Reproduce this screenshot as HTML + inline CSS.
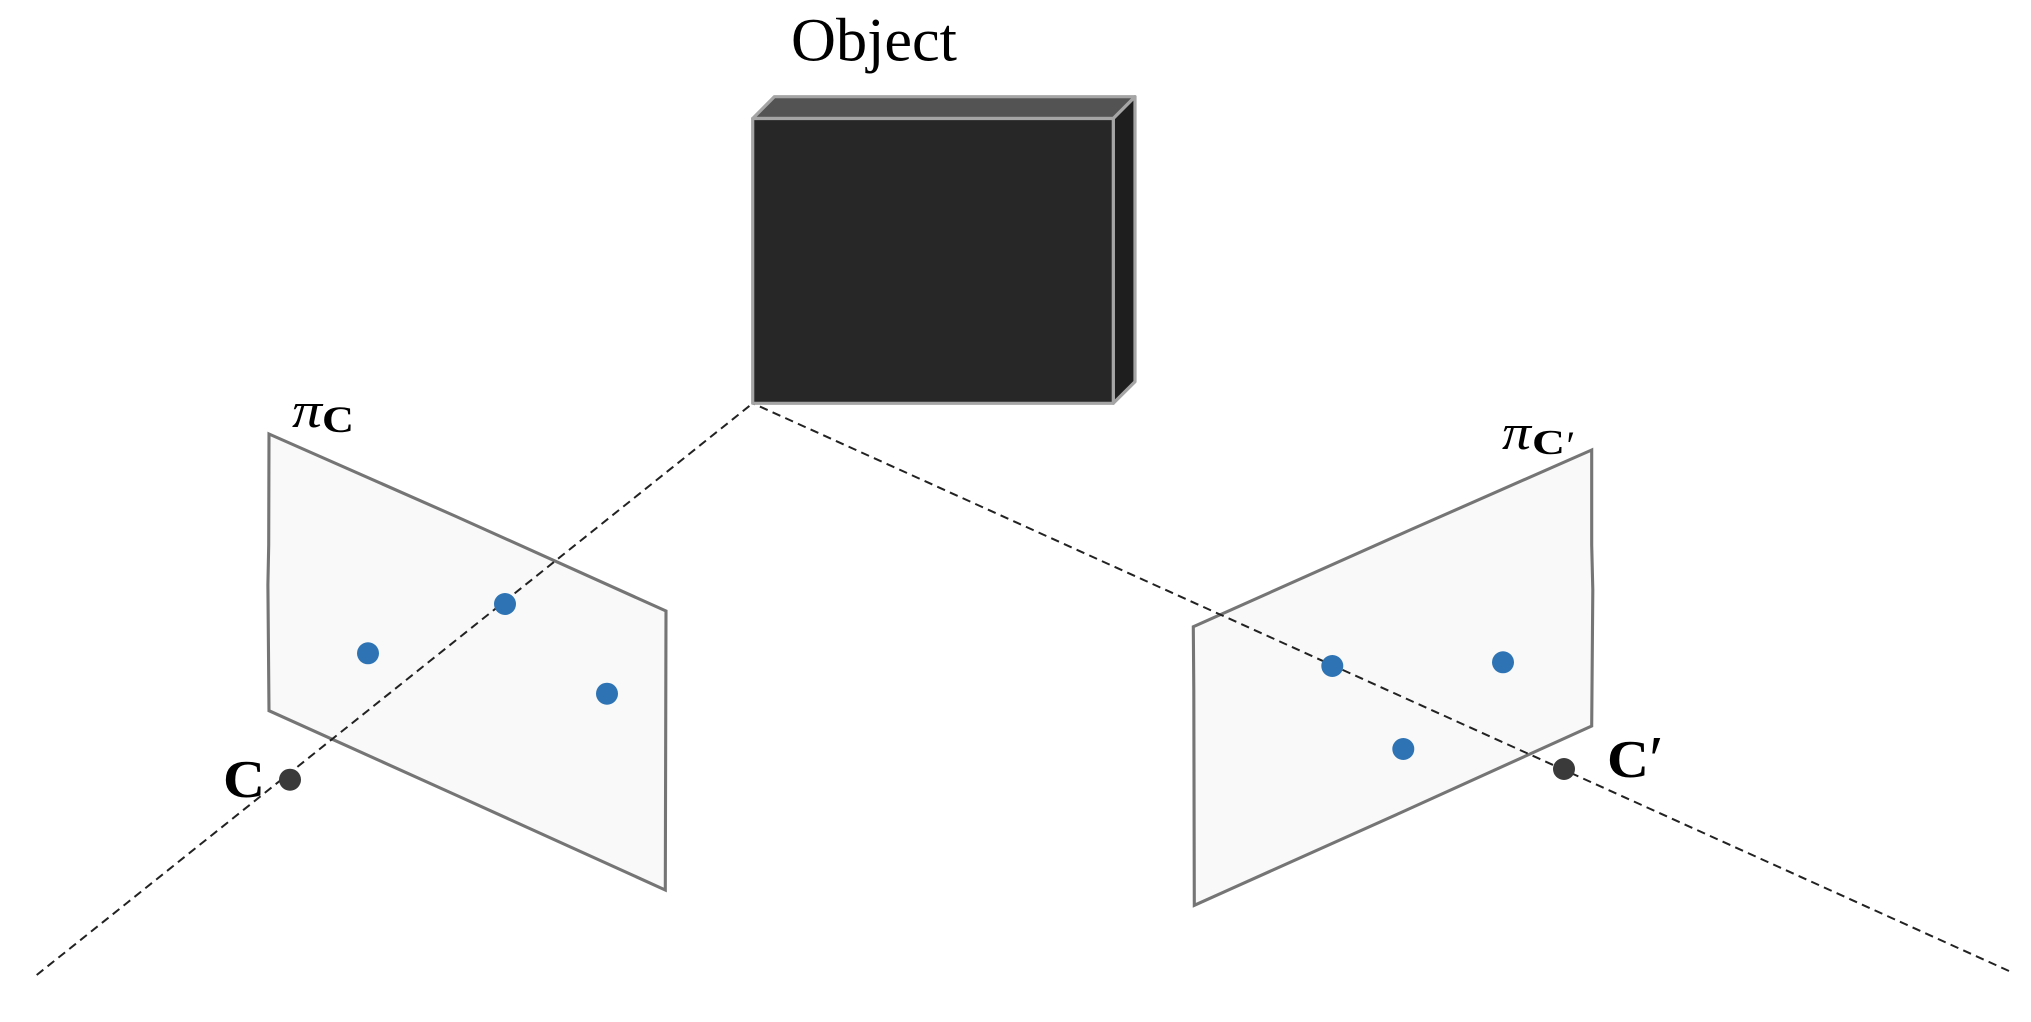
<!DOCTYPE html>
<html><head><meta charset="utf-8"><style>
html,body{margin:0;padding:0;background:#fff;width:2031px;height:1022px;overflow:hidden}
svg{display:block}
text{font-family:"Liberation Serif",serif;fill:#000}
</style></head><body>
<svg width="2031" height="1022" viewBox="0 0 2031 1022" xmlns="http://www.w3.org/2000/svg">
<rect width="2031" height="1022" fill="#fff"/>
<g stroke-linejoin="miter">
<path d="M269 434L455 516L666 611L665.3 890L458 796L269 710.7L267.9 585L268.7 545Z" fill="#f9f9f9" stroke="#757575" stroke-width="3.1"/>
<path d="M1591.7 450L1410 530L1193.3 626.7L1193.8 690L1194.3 905.3L1400 813L1591.7 726L1592.8 590L1591.7 545Z" fill="#f9f9f9" stroke="#757575" stroke-width="3.1"/>
</g>
<g stroke="#222" stroke-width="2" fill="none" stroke-dasharray="8.5 5.4">
<line x1="36.7" y1="975" x2="752.7" y2="403.3"/>
<line x1="2009" y1="971" x2="752.7" y2="403.3"/>
</g>
<g stroke="#a5a5a5" stroke-width="3.2" stroke-linejoin="round">
<path d="M752.7 118.5L774.3 96.7H1135L1113.3 118.5Z" fill="#535353"/>
<path d="M1113.3 118.5L1135 96.7V381.7L1113.3 403.3Z" fill="#1e1e1e"/>
<rect x="752.7" y="118.5" width="360.6" height="284.8" fill="#272727"/>
</g>
<g fill="#2e74b5">
<circle cx="368" cy="653.3" r="11"/>
<circle cx="505" cy="604" r="11"/>
<circle cx="607" cy="693.7" r="11"/>
<circle cx="1332.3" cy="666" r="11"/>
<circle cx="1503" cy="662.3" r="11"/>
<circle cx="1403.3" cy="749" r="11"/>
</g>
<g fill="#3a3a3a">
<circle cx="290" cy="779.7" r="11"/>
<circle cx="1564" cy="769" r="11"/>
</g>
<text x="791" y="60.5" font-size="61" textLength="166" lengthAdjust="spacingAndGlyphs">Object</text>
<text x="292" y="427" font-size="50" font-style="italic" textLength="30" lengthAdjust="spacingAndGlyphs">π</text>
<text x="322" y="432" font-size="37" font-weight="bold" textLength="32" lengthAdjust="spacingAndGlyphs">C</text>
<text x="1502" y="449" font-size="50" font-style="italic" textLength="29" lengthAdjust="spacingAndGlyphs">π</text>
<text x="1532" y="454" font-size="35" font-weight="bold" textLength="33" lengthAdjust="spacingAndGlyphs">C</text>
<text x="1564" y="459" font-size="40" font-style="italic">′</text>
<text x="223" y="797" font-size="53" font-weight="bold" textLength="42" lengthAdjust="spacingAndGlyphs">C</text>
<text x="1607" y="777" font-size="53" font-weight="bold" textLength="42" lengthAdjust="spacingAndGlyphs">C</text>
<text x="1645" y="781" font-size="66" font-style="italic">′</text>
</svg>
</body></html>
